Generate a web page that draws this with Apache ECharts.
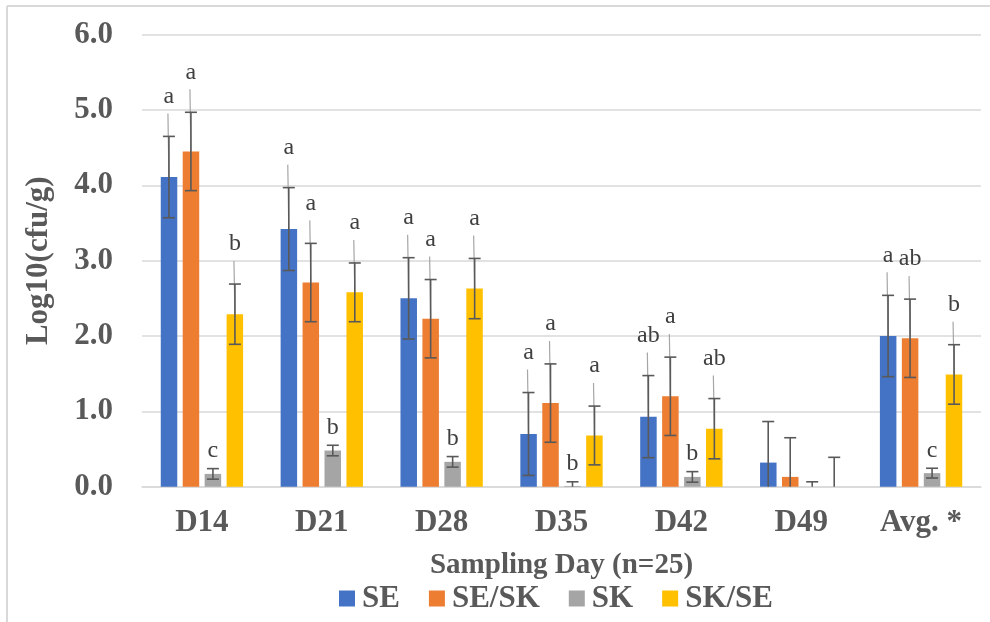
<!DOCTYPE html>
<html><head><meta charset="utf-8">
<script src="https://cdn.jsdelivr.net/npm/echarts@6/dist/echarts.min.js"></script>
<style>html,body{margin:0;padding:0;background:#fff}#c{width:990px;height:622px}</style>
</head><body><div id="c"></div>
<script>
// ---- data ----
var categories = ['D14','D21','D28','D35','D42','D49','Avg. *'];
var seriesNames = ['SE','SE/SK','SK','SK/SE'];
var seValues   = [4.11, 3.42, 2.50, 0.70, 0.93, 0.32, 2.00];
var seErr      = [0.54, 0.55, 0.54, 0.55, 0.545, 0.545, 0.54];
var seskValues = [4.45, 2.71, 2.23, 1.11, 1.20, 0.13, 1.97];
var seskErr    = [0.52, 0.52, 0.52, 0.52, 0.52, 0.52, 0.52];
var skValues   = [0.17, 0.48, 0.33, 0.01, 0.13, 0.00, 0.18];
var skErr      = [0.07, 0.07, 0.07, 0.055, 0.07, 0.065, 0.065];
var skseValues = [2.29, 2.58, 2.63, 0.68, 0.77, 0.00, 1.49];
var skseErr    = [0.40, 0.39, 0.40, 0.39, 0.40, 0.39, 0.395];
var seLetters   = ['a','a','a','a','ab','','a'];
var seskLetters = ['a','a','a','a','a','','ab'];
var skLetters   = ['c','b','b','b','b','','c'];
var skseLetters = ['b','a','a','a','ab','','b'];
var yTicks = [0,1,2,3,4,5,6];

// ---- build ----
var colors = ['#4472C4','#ED7D31','#A5A5A5','#FFC000'];
var values = [seValues, seskValues, skValues, skseValues];
var errs = [seErr, seskErr, skErr, skseErr];
var letters = [seLetters, seskLetters, skLetters, skseLetters];
var BAR_W = 16.5, STEP = 22;
var FONT = '"Liberation Serif","Times New Roman",serif';

var series = [];
seriesNames.forEach(function(n, i){
  series.push({
    name: n, type: 'bar', data: values[i], barWidth: BAR_W, barGap: '33%',
    itemStyle: {color: colors[i]}, z: 2
  });
});
seriesNames.forEach(function(n, i){
  var data = categories.map(function(c, k){ return [k, values[i][k], errs[i][k], letters[i][k]]; });
  series.push({
    type: 'custom', name: n + '_err', z: 5, silent: true,
    data: data,
    encode: {x: 0, y: 1},
    renderItem: function(params, api){
      var k = api.value(0), v = api.value(1), e = api.value(2);
      var lab = data[params.dataIndex][3];
      var off = -33 + STEP * i;
      var top = api.coord([k, v + e]);
      var lowV = Math.max(0, v - e);
      var low = api.coord([k, lowV]);
      var x = top[0] + off;
      var children = [];
      children.push({type:'line', shape:{x1:x, y1:top[1], x2:x, y2:low[1]}, style:{stroke:'#595959', lineWidth:1.6}});
      children.push({type:'line', shape:{x1:x-6, y1:top[1], x2:x+6, y2:top[1]}, style:{stroke:'#595959', lineWidth:1.6}});
      if (v - e > 0) {
        children.push({type:'line', shape:{x1:x-6, y1:low[1], x2:x+6, y2:low[1]}, style:{stroke:'#595959', lineWidth:1.6}});
      }
      if (lab) {
        var isSK = (i === 2);
        var dy = isSK ? 18 : 40;
        var ly = top[1] - dy;
        if (!isSK) {
          var bar = api.coord([k, v]);
          children.push({type:'line', z2: -1, shape:{x1:x-1, y1:ly+17, x2:x, y2:bar[1]}, style:{stroke:'#A6A6A6', lineWidth:1.2}});
        }
        children.push({type:'text', style:{text: lab, x: x, y: ly, align:'center', verticalAlign:'middle',
          font: '24px ' + FONT, fill:'#404040'}});
      }
      return {type:'group', children: children};
    }
  });
});

var chart = echarts.init(document.getElementById('c'));
chart.setOption({
  animation: false,
  grid: {left: 142, right: 9, top: 34.7, bottom: 135.3, containLabel: false},
  legend: {
    data: seriesNames, bottom: 8, left: 339, padding: 0, icon: 'rect', itemWidth: 16, itemHeight: 16, itemGap: 29,
    textStyle: {fontFamily: FONT, fontWeight: 'bold', fontSize: 31, color: '#595959', padding:[0,0,0,2]}
  },
  xAxis: {
    type: 'category', data: categories,
    axisLine: {lineStyle: {color: '#D9D9D9', width: 1.5}},
    axisTick: {show: false},
    axisLabel: {fontFamily: FONT, fontWeight: 'bold', fontSize: 31, color: '#595959', margin: 21},
    name: 'Sampling Day (n=25)', nameLocation: 'middle', nameGap: 64,
    nameTextStyle: {fontFamily: FONT, fontWeight: 'bold', fontSize: 29, color: '#595959'}
  },
  yAxis: {
    type: 'value', min: yTicks[0], max: yTicks[yTicks.length-1], interval: 1,
    axisLine: {show: false}, axisTick: {show: false},
    splitLine: {lineStyle: {color: '#D9D9D9', width: 1.5}},
    axisLabel: {fontFamily: FONT, fontWeight: 'bold', fontSize: 31, color: '#595959', margin: 29,
      formatter: function(v){ return v.toFixed(1); }},
    name: 'Log10(cfu/g)', nameLocation: 'middle', nameGap: 88,
    nameTextStyle: {fontFamily: FONT, fontWeight: 'bold', fontSize: 31, color: '#595959'}
  },
  graphic: [
    {type:'line', shape:{x1:7, y1:6, x2:990, y2:6}, style:{stroke:'#D9D9D9', lineWidth:2}},
    {type:'line', shape:{x1:7, y1:6, x2:7, y2:622}, style:{stroke:'#D9D9D9', lineWidth:2}}
  ],
  series: series
});
</script></body></html>
